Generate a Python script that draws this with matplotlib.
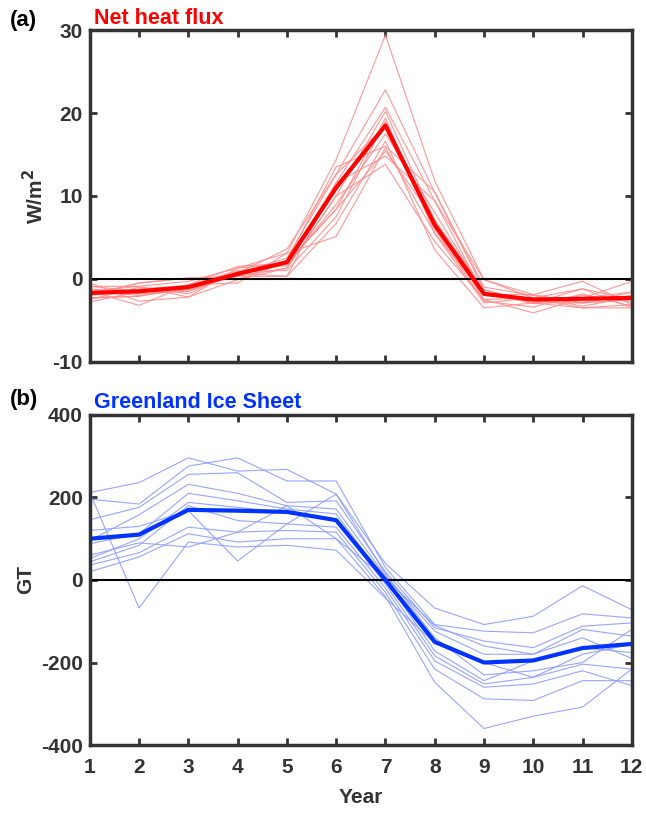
import matplotlib.pyplot as plt
import numpy as np

# data
years = np.arange(1, 13)

heat_mean = [-1.7, -1.5, -1.0, 0.6, 2.0, 11.0, 18.5, 6.5, -1.8, -2.5, -2.4, -2.3]
heat_members = [
    [-1.5, -0.9, -0.3, 1.3, 3.1, 14.4, 29.4, 11.8, -0.1, -2.3, -2.9, -1.6],
    [-0.9, -1.5, -1.1, 0.7, 3.6, 12.6, 22.8, 10.4, -1.3, -2.9, -1.2, -2.5],
    [-2.3, -2.1, -0.7, 1.5, 1.9, 11.6, 20.7, 9.4, -1.9, -1.9, -0.3, -3.1],
    [-1.9, -0.5, 0.1, 0.3, 1.3, 10.0, 20.2, 7.1, -2.5, -4.1, -2.3, -0.3],
    [-0.5, -2.7, -2.2, -0.1, 2.0, 8.4, 19.4, 5.5, -2.9, -2.3, -3.5, -3.5],
    [-2.8, -1.5, -1.5, 0.7, 0.3, 6.7, 16.6, 3.5, -3.5, -2.9, -2.9, -2.5],
    [-1.5, -3.2, -0.7, -0.5, 3.1, 5.1, 15.8, 5.5, -1.9, -2.3, -2.3, -1.6],
    [-0.9, -0.9, -2.2, 1.3, 1.9, 8.4, 15.4, 7.1, -1.3, -2.9, -3.5, -3.1],
    [-2.3, -2.1, -1.1, 0.3, 0.3, 11.6, 14.8, 9.4, -0.1, -1.9, -2.9, -2.5],
    [-1.9, -0.5, 0.1, -0.1, 1.3, 10.0, 13.8, 4.5, -2.5, -2.3, -1.2, -3.5],
    [-1.2, -1.8, -1.5, 0.7, 2.5, 12.6, 18.5, 6.5, -2.0, -2.6, -2.8, -2.0],
    [-2.0, -1.2, -0.8, 1.0, 1.6, 9.0, 17.5, 8.0, -1.6, -3.0, -2.0, -2.8],
    [-1.4, -2.0, -1.3, 0.4, 2.2, 13.5, 16.0, 10.5, -1.0, -2.0, -3.3, -2.2],
    [-2.5, -1.0, -1.8, 0.9, 1.0, 7.5, 19.0, 6.0, -2.7, -3.4, -1.8, -3.3],
]

gis_mean = [100, 110, 170, 168, 165, 145, 0, -150, -200, -195, -165, -155]
gis_members = [
    [212, 236, 296, 264, 268, 208, 40, -68, -108, -88, -14, -72],
    [196, 184, 276, 296, 240, 240, 30, -108, -124, -128, -82, -92],
    [146, 176, 256, 260, 188, 192, 20, -116, -148, -164, -112, -104],
    [96, 158, 232, 210, 180, 172, 10, -124, -180, -180, -120, -136],
    [88, 112, 210, 192, 172, 160, 0, -172, -244, -196, -164, -176],
    [52, 100, 188, 176, 164, 144, -10, -184, -252, -236, -204, -216],
    [44, 84, 180, 144, 136, 128, -20, -196, -260, -252, -220, -256],
    [36, 66, 128, 116, 120, 116, -30, -216, -288, -292, -244, -244],
    [20, 56, 112, 92, 100, 100, -40, -248, -360, -330, -308, -216],
    [212, -68, 92, 80, 84, 72, -44, -152, -200, -236, -180, -156],
    [120, 130, 168, 46, 136, 208, 15, -140, -230, -220, -200, -120],
    [60, 90, 80, 116, 180, 100, 5, -110, -160, -180, -140, -190],
]

plt.rcParams['font.family'] = ['Liberation Sans', 'DejaVu Sans']
plt.rcParams['font.weight'] = 'bold'
plt.rcParams['axes.unicode_minus'] = False

axcol = '#333333'

fig = plt.figure(figsize=(6.46, 8.13), dpi=100)
ax1 = fig.add_axes([0.139, 0.555, 0.839, 0.408])
ax2 = fig.add_axes([0.139, 0.0836, 0.839, 0.406])


def style(ax):
    for s in ax.spines.values():
        s.set_linewidth(2.5)
        s.set_color(axcol)
    ax.tick_params(direction='in', length=5, width=2, color=axcol,
                   labelsize=15, labelcolor=axcol, top=True, right=True)
    ax.tick_params(axis='x', pad=9)
    ax.tick_params(axis='y', pad=5)
    for lab in ax.get_xticklabels() + ax.get_yticklabels():
        lab.set_fontweight('bold')
    ax.set_xlim(1, 12)
    ax.set_xticks(years)


# (a) net heat flux
for m in heat_members:
    ax1.plot(years, m, color='#ff8c8c', lw=0.8, alpha=0.9)
ax1.axhline(0, color='black', lw=1.5)
ax1.plot(years, heat_mean, color='#ff0000', lw=3)
ax1.set_ylim(-10, 30)
ax1.set_yticks([-10, 0, 10, 20, 30])
style(ax1)
ax1.set_xticklabels([])
ax1.set_ylabel('W/m$^\\mathbf{2}$', fontsize=15, fontweight='bold', color=axcol, labelpad=4)
ax1.text(0.008, 1.003, 'Net heat flux', transform=ax1.transAxes, color='#ff0000',
         fontsize=15.5, fontweight='bold', va='bottom', ha='left')
fig.text(0.015, 0.975, '(a)', fontsize=16, fontweight='bold', va='center')

# (b) Greenland ice sheet
for m in gis_members:
    ax2.plot(years, m, color='#8c9cff', lw=0.8, alpha=0.9)
ax2.axhline(0, color='black', lw=1.5)
ax2.plot(years, gis_mean, color='#0033ff', lw=3)
ax2.set_ylim(-400, 400)
ax2.set_yticks([-400, -200, 0, 200, 400])
style(ax2)
ax2.set_ylabel('GT', fontsize=15, fontweight='bold', color=axcol, labelpad=4)
ax2.set_xlabel('Year', fontsize=15, fontweight='bold', color=axcol, labelpad=8)
ax2.text(0.008, 1.005, 'Greenland Ice Sheet', transform=ax2.transAxes, color='#0033ff',
         fontsize=15.5, fontweight='bold', va='bottom', ha='left')
fig.text(0.015, 0.508, '(b)', fontsize=16, fontweight='bold', va='center')

fig.savefig('out.png', dpi=100)
